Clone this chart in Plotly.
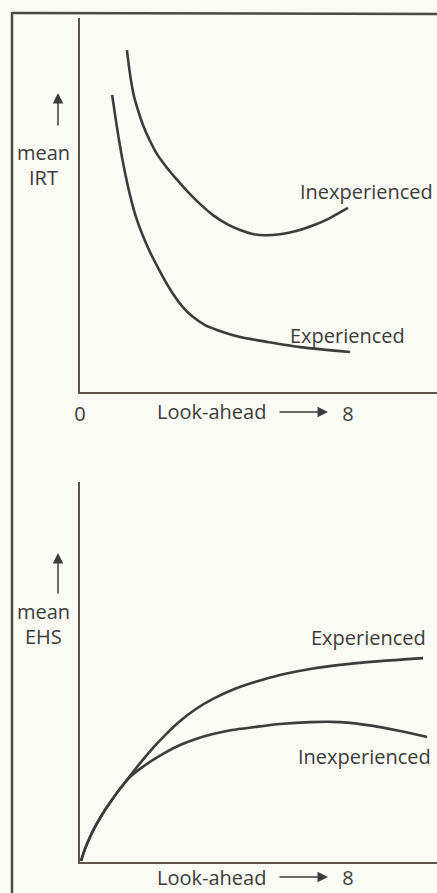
import plotly.graph_objects as go

# Look-ahead vs. mean inter-response time (upper panel)
irt_inexp_x = [1.40, 1.46, 1.52, 1.61, 1.73, 1.88, 2.09, 2.30, 2.60, 2.90, 3.22, 3.58,
               3.97, 4.39, 4.78, 5.13, 5.52, 5.97, 6.48, 7.01, 7.46, 8.00]
irt_inexp_y = [9.14, 8.72, 8.34, 7.91, 7.54, 7.14, 6.71, 6.36, 5.99, 5.67, 5.35, 5.03,
               4.73, 4.49, 4.33, 4.23, 4.19, 4.22, 4.31, 4.47, 4.65, 4.92]
irt_exp_x = [0.96, 1.07, 1.19, 1.34, 1.49, 1.67, 1.88, 2.09, 2.30, 2.54, 2.78, 3.07,
             3.37, 3.73, 4.09, 4.57, 5.07, 5.58, 6.57, 8.06]
irt_exp_y = [7.94, 7.27, 6.60, 5.88, 5.27, 4.68, 4.17, 3.74, 3.37, 2.97, 2.62, 2.27,
             2.01, 1.79, 1.66, 1.52, 1.42, 1.34, 1.20, 1.07]

# Look-ahead vs. mean EHS (lower panel)
ehs_exp_x = [0.03, 0.15, 0.30, 0.48, 0.69, 0.93, 1.19, 1.49, 1.82, 2.18, 2.57, 2.99,
             3.46, 3.97, 4.54, 5.22, 5.97, 6.87, 7.76, 8.96, 10.24]
ehs_exp_y = [0.03, 0.35, 0.67, 0.99, 1.31, 1.63, 1.95, 2.30, 2.67, 3.05, 3.42, 3.77,
             4.09, 4.36, 4.60, 4.81, 5.00, 5.16, 5.27, 5.37, 5.45]
ehs_inexp_x = [0.03, 0.15, 0.30, 0.48, 0.69, 0.93, 1.19, 1.49, 1.82, 2.18, 2.57, 2.99,
               3.46, 3.97, 4.54, 5.22, 5.97, 6.87, 7.76, 8.75, 9.55, 10.36]
ehs_inexp_y = [0.03, 0.35, 0.67, 0.99, 1.31, 1.63, 1.95, 2.27, 2.51, 2.73, 2.94, 3.13,
               3.29, 3.42, 3.53, 3.61, 3.69, 3.74, 3.74, 3.64, 3.50, 3.34]

top_ticks = [0, 8]
top_ticktext = ["0", "8"]
bottom_ticks = [8]
bottom_ticktext = ["8"]

W, H = 437, 893
BG = "#fbfbf5"
INK = "#3c3c3a"
AXIS = "#5e544c"
FONT = dict(family="Open Sans", size=20, color=INK)


def px(xp):
    return xp / W


def py(yp):
    return 1 - yp / H


X_RANGE = [0, (W - 80) / 33.5]

fig = go.Figure()
curve = dict(mode="lines", line=dict(color=INK, width=2.6, shape="spline", smoothing=0.6),
             hoverinfo="skip", showlegend=False)
fig.add_trace(go.Scatter(x=irt_inexp_x, y=irt_inexp_y, xaxis="x", yaxis="y", **curve))
fig.add_trace(go.Scatter(x=irt_exp_x, y=irt_exp_y, xaxis="x", yaxis="y", **curve))
fig.add_trace(go.Scatter(x=ehs_exp_x, y=ehs_exp_y, xaxis="x2", yaxis="y2", **curve))
fig.add_trace(go.Scatter(x=ehs_inexp_x, y=ehs_inexp_y, xaxis="x2", yaxis="y2", **curve))

axis_common = dict(showgrid=False, zeroline=False, showline=True, linecolor=AXIS, linewidth=1.6,
                   fixedrange=True, automargin=False)

fig.update_layout(
    width=W, height=H,
    autosize=False,
    showlegend=False,
    margin=dict(l=0, r=0, t=0, b=0, pad=0),
    paper_bgcolor=BG, plot_bgcolor=BG,
    font=FONT,
    xaxis=dict(domain=[px(80), 1], range=X_RANGE, anchor="y", tickmode="array",
               tickvals=top_ticks, ticktext=top_ticktext, ticks="outside", ticklen=3,
               tickcolor="rgba(0,0,0,0)", tickfont=FONT, **axis_common),
    yaxis=dict(domain=[py(392), py(18)], range=[0, 10], anchor="x", showticklabels=False,
               **axis_common),
    xaxis2=dict(domain=[px(80), 1], range=X_RANGE, anchor="y2", tickmode="array",
                tickvals=bottom_ticks, ticktext=bottom_ticktext, ticks="",
                ticklabelstandoff=-3, tickfont=FONT, **axis_common),
    yaxis2=dict(domain=[py(862), py(482)], range=[0, 380 / 37.4], anchor="x2",
                showticklabels=False, **axis_common),
)

# outer frame
frame = dict(color="#4a4a44", width=2.4)
fig.add_shape(type="line", xref="paper", yref="paper", x0=px(12), x1=px(12), y0=py(12), y1=0,
              line=frame)
fig.add_shape(type="line", xref="paper", yref="paper", x0=px(12), x1=1, y0=py(13), y1=py(14),
              line=frame)

ann = []
# curve labels
ann.append(dict(text="Inexperienced", xref="x", yref="y", x=8.54, y=5.35, showarrow=False))
ann.append(dict(text="Experienced", xref="x", yref="y", x=7.97, y=1.50, showarrow=False))
ann.append(dict(text="Experienced", xref="x2", yref="y2", x=8.6, y=5.99, showarrow=False))
ann.append(dict(text="Inexperienced", xref="x2", yref="y2", x=8.48, y=2.81, showarrow=False))

# y-axis labels with upward arrows
for txt, yc in [("mean", 153), ("IRT", 177), ("mean", 611), ("EHS", 636)]:
    ann.append(dict(text=txt, xref="paper", yref="paper", x=px(43), y=py(yc),
                    showarrow=False, xanchor="center", yanchor="middle"))
for head, tail in [(93, 127), (553, 595)]:
    ann.append(dict(text="", xref="paper", yref="paper", x=px(58), y=py(head),
                    ax=0, ay=tail - head, showarrow=True, arrowhead=2, arrowsize=1.4,
                    arrowwidth=1.5, arrowcolor=INK))

# x-axis captions with rightward arrows
for xname, yc in [("x", 412), ("x2", 877)]:
    ann.append(dict(text="Look-ahead", xref=xname, yref="paper", x=(211 - 80) / 33.5,
                    y=py(yc), showarrow=False, yanchor="middle"))
    ann.append(dict(text="", xref=xname, yref="paper", x=(328 - 80) / 33.5, y=py(yc),
                    ax=-50, ay=0, showarrow=True, arrowhead=2, arrowsize=1.4,
                    arrowwidth=1.5, arrowcolor=INK))

fig.update_layout(annotations=ann)
fig.write_html("out.html")
